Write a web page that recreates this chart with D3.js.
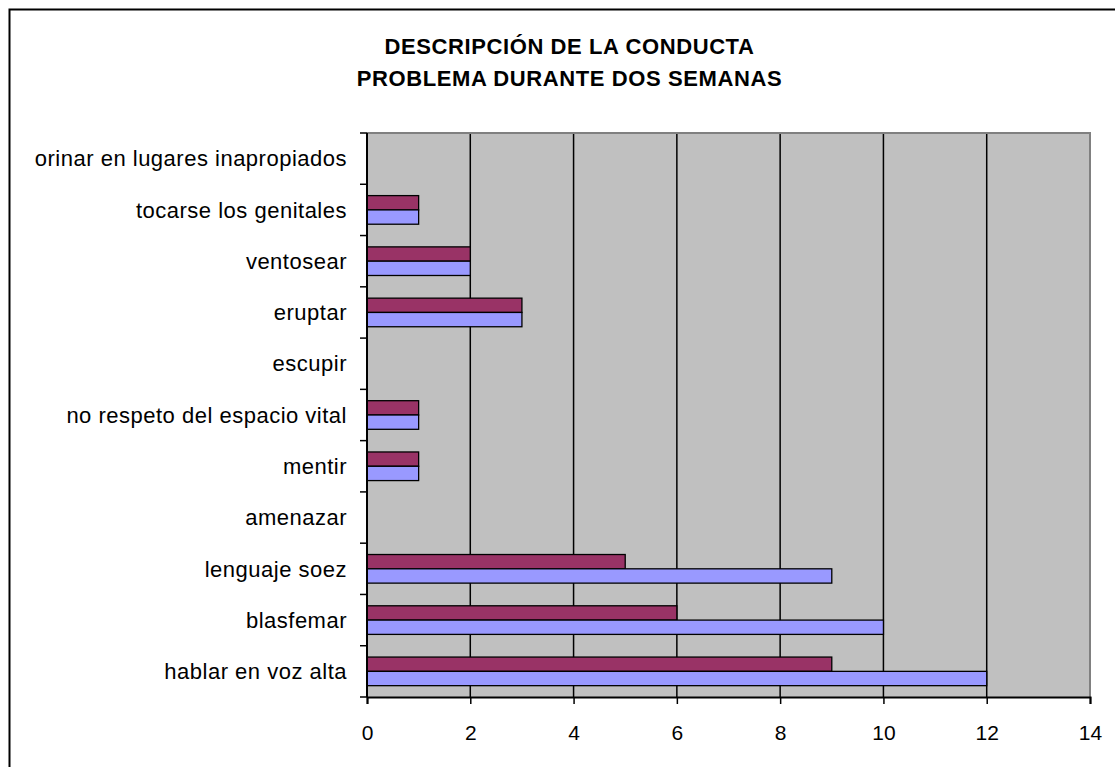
<!DOCTYPE html>
<html>
<head>
<meta charset="utf-8">
<script src="https://cdn.jsdelivr.net/npm/d3@7"></script>
<style>
  html, body { margin: 0; padding: 0; background: #fff; }
  svg { display: block; }
  text { font-family: Arial, "Liberation Sans", sans-serif; fill: #000; }
</style>
</head>
<body>
<svg></svg>
<script>
// categories, bottom to top like the excel chart
const categories = ["hablar en voz alta", "blasfemar", "lenguaje soez", "amenazar", "mentir",
  "no respeto del espacio vital", "escupir", "eruptar", "ventosear", "tocarse los genitales",
  "orinar en lugares inapropiados"];
const series = ["semana 2", "semana 1"];   // top bar, bottom bar
const semana2 = [9, 6, 5, 0, 1, 1, 0, 3, 2, 1, 0];
const semana1 = [12, 10, 9, 0, 1, 1, 0, 3, 2, 1, 0];
const xTicks = [0, 2, 4, 6, 8, 10, 12, 14];
const titleLines = ["DESCRIPCIÓN DE LA CONDUCTA", "PROBLEMA DURANTE DOS SEMANAS"];

const width = 1115, height = 767;
const svg = d3.select("svg").attr("width", width).attr("height", height);

const plot = {left: 367, right: 1090, top: 133, bottom: 697};

// outer chart frame (runs off the right and bottom)
svg.append("rect")
    .attr("x", 9.5).attr("y", 9.5)
    .attr("width", 1300).attr("height", 1000)
    .attr("fill", "#fff").attr("stroke", "#000").attr("stroke-width", 2);

svg.selectAll(".title").data(titleLines)
  .enter().append("text")
    .attr("x", 569.5)
    .attr("y", (d, i) => 54 + i * 32)
    .attr("text-anchor", "middle")
    .attr("font-weight", "bold")
    .attr("font-size", "22px")
    .attr("letter-spacing", "0.6px")
    .text(d => d);

const x = d3.scaleLinear().domain([0, 14]).range([plot.left, plot.right]);
const y = d3.scaleBand().domain(categories).range([plot.bottom, plot.top]);
const sub = d3.scaleBand().domain(series)
    .range([y.bandwidth() * 0.221, y.bandwidth() * 0.779]);

// plot background
svg.append("rect")
    .attr("x", plot.left).attr("y", plot.top)
    .attr("width", plot.right - plot.left).attr("height", plot.bottom - plot.top)
    .attr("fill", "#c0c0c0");

// gridlines
svg.selectAll(".grid").data(xTicks.slice(1, -1))
  .enter().append("line")
    .attr("x1", d => x(d)).attr("x2", d => x(d))
    .attr("y1", plot.top).attr("y2", plot.bottom)
    .attr("stroke", "#000").attr("stroke-width", 1.5);

// gray border top + right
svg.append("path")
    .attr("d", `M${plot.left},${plot.top}H${plot.right}V${plot.bottom}`)
    .attr("fill", "none").attr("stroke", "#808080").attr("stroke-width", 2);

const rows = categories.map((c, i) => ({cat: c, vals: [
  {s: series[0], v: semana2[i], color: "#993366"},
  {s: series[1], v: semana1[i], color: "#9999ff"}
]}));

const groups = svg.selectAll(".row").data(rows)
  .enter().append("g")
    .attr("transform", d => `translate(0,${y(d.cat)})`);

groups.selectAll("rect").data(d => d.vals.filter(b => b.v > 0))
  .enter().append("rect")
    .attr("x", x(0))
    .attr("y", d => sub(d.s))
    .attr("width", d => x(d.v) - x(0))
    .attr("height", sub.bandwidth())
    .attr("fill", d => d.color)
    .attr("stroke", "#000").attr("stroke-width", 1.3);

// x axis
const xAxis = svg.append("g")
    .attr("transform", `translate(0,${plot.bottom})`)
    .call(d3.axisBottom(x).tickValues(xTicks).tickSize(7).tickPadding(21));
xAxis.select(".domain").attr("stroke-width", 2);
xAxis.selectAll(".tick line").attr("stroke-width", 1.5);
xAxis.selectAll("text").attr("font-size", "21px").attr("font-family", "Arial, 'Liberation Sans', sans-serif");

// y axis: line with ticks at band edges
svg.append("line")
    .attr("x1", plot.left).attr("x2", plot.left)
    .attr("y1", plot.top).attr("y2", plot.bottom)
    .attr("stroke", "#000").attr("stroke-width", 2);
const edges = categories.map(c => y(c)).concat([plot.bottom]);
svg.selectAll(".ytick").data(edges)
  .enter().append("line")
    .attr("x1", plot.left - 7).attr("x2", plot.left)
    .attr("y1", d => d).attr("y2", d => d)
    .attr("stroke", "#000").attr("stroke-width", 1.5);

svg.selectAll(".ylabel").data(categories)
  .enter().append("text")
    .attr("x", 347)
    .attr("y", d => y(d) + y.bandwidth() / 2)
    .attr("dy", "0.35em")
    .attr("text-anchor", "end")
    .attr("font-size", "22px")
    .attr("letter-spacing", "0.5px")
    .text(d => d);
</script>
</body>
</html>
